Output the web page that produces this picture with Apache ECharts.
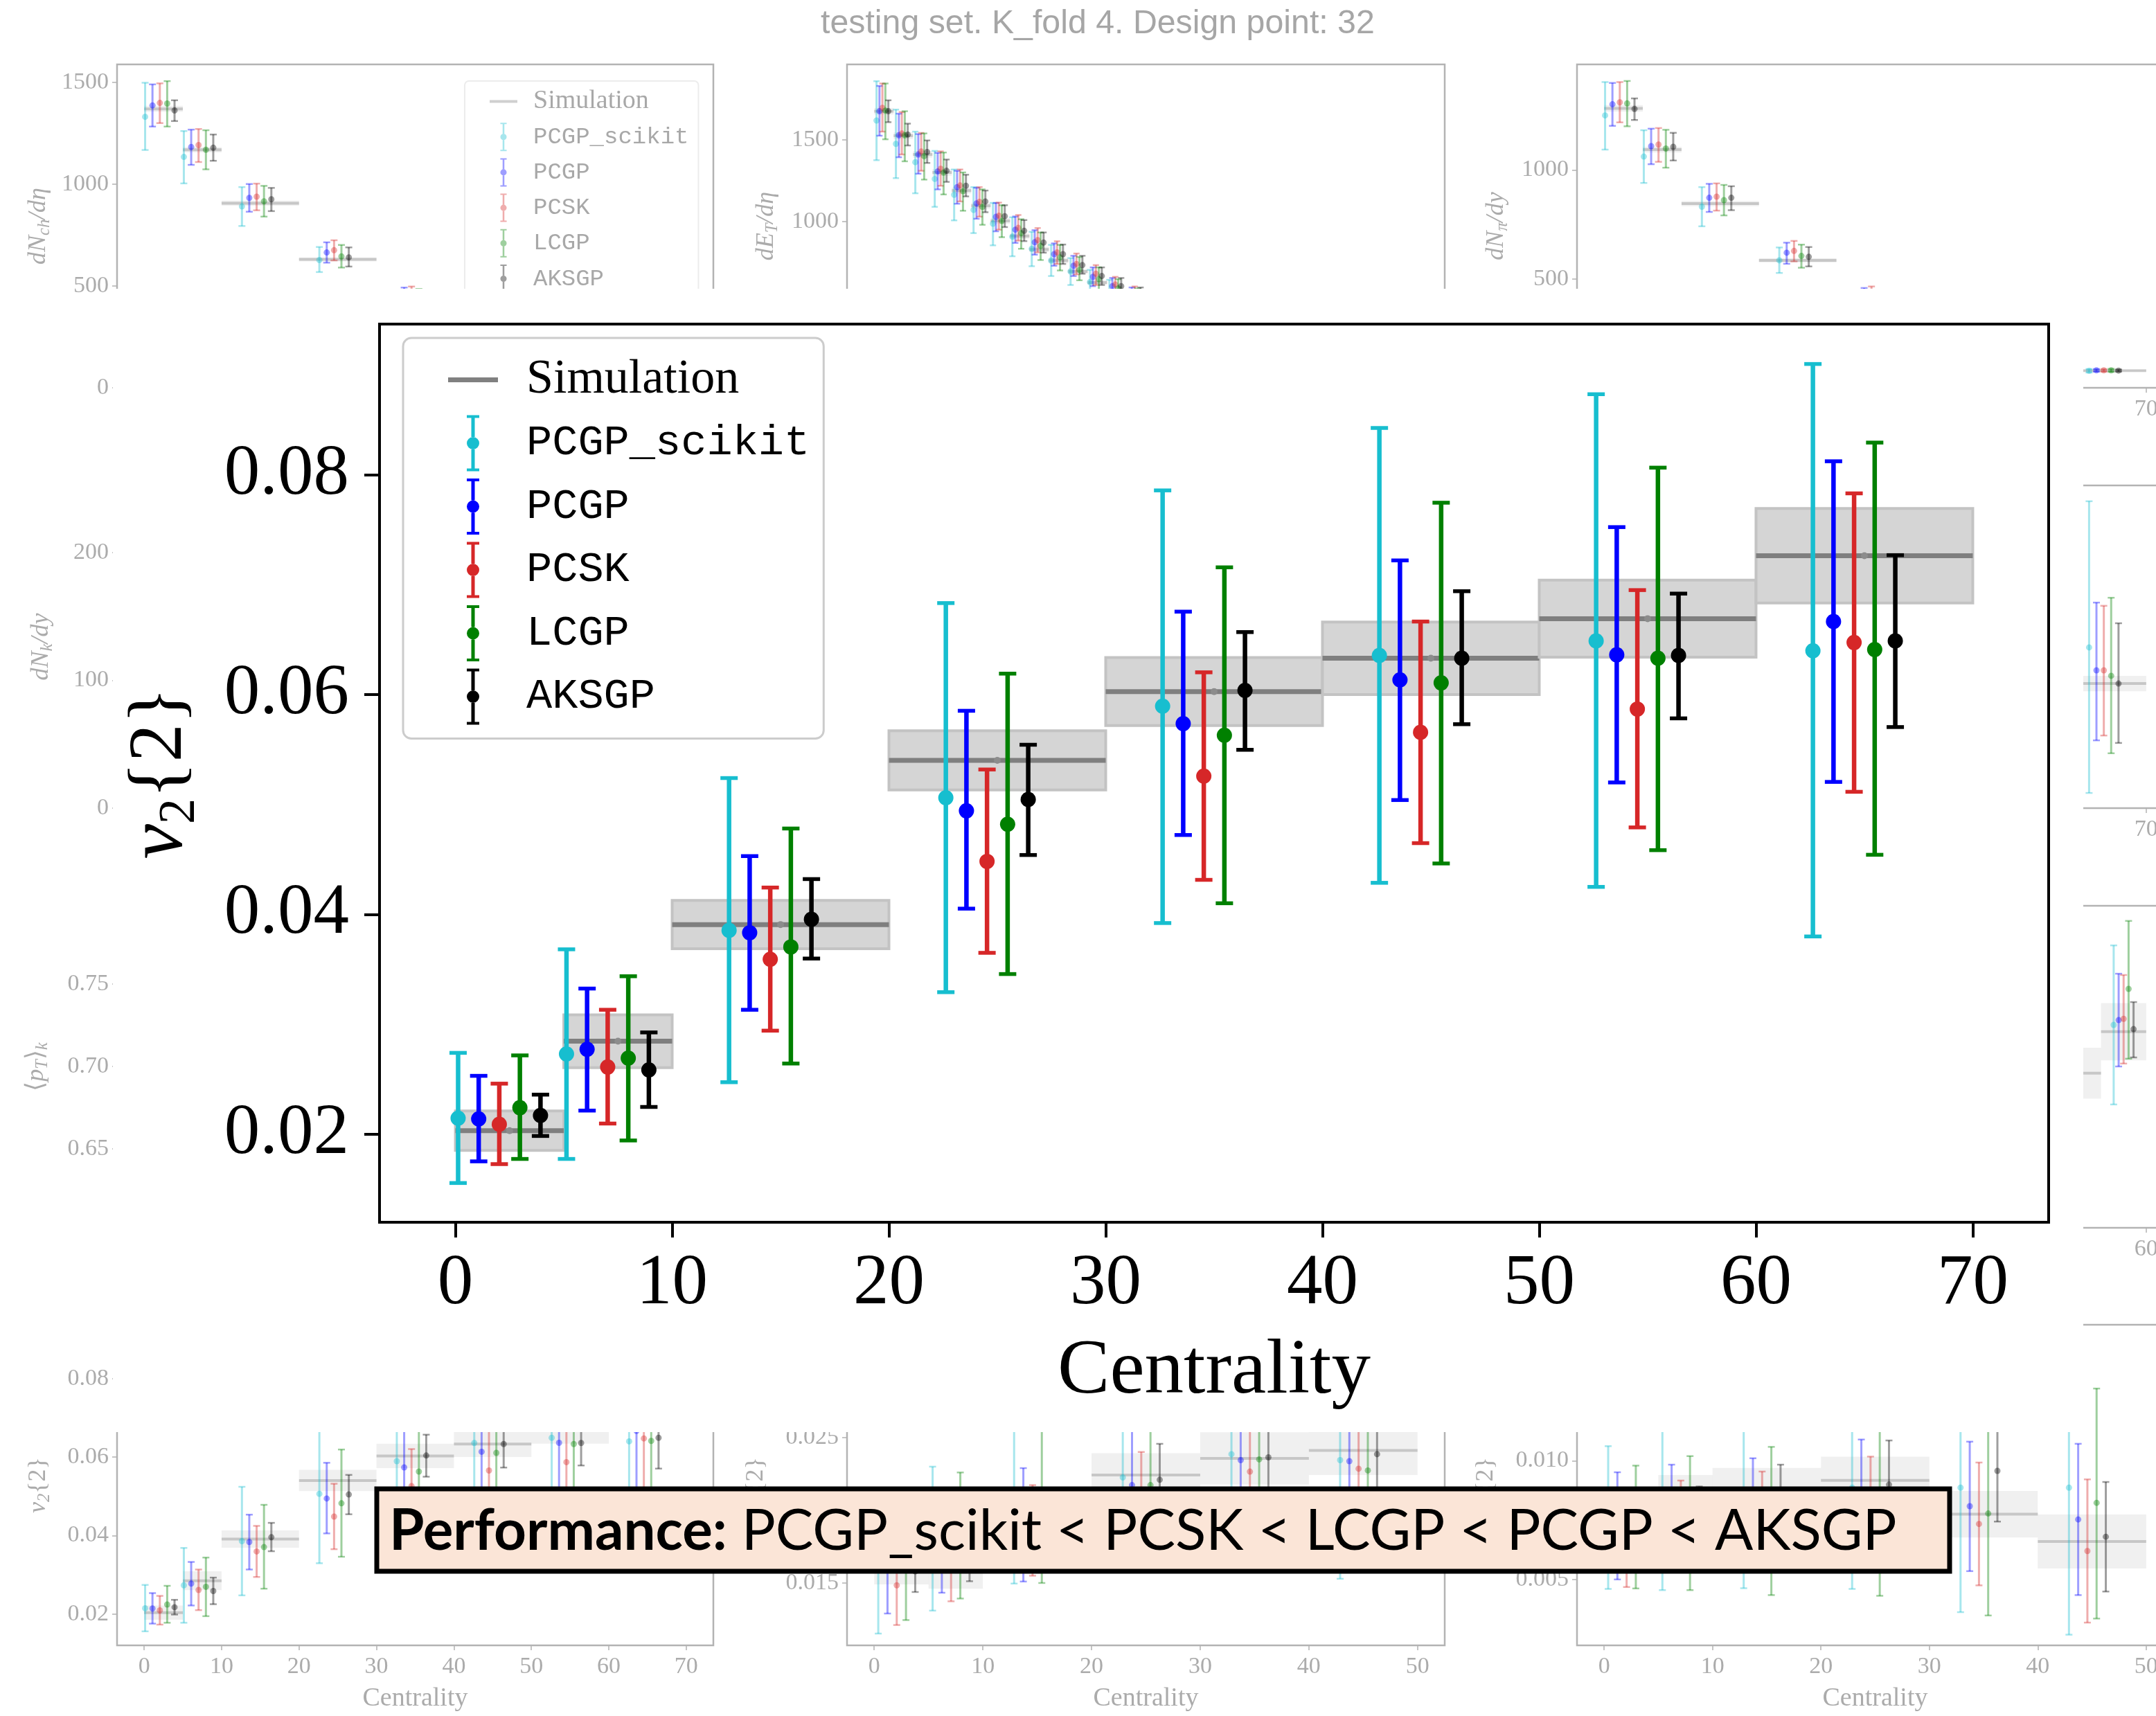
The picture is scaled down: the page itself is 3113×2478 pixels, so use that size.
<!DOCTYPE html>
<html><head><meta charset="utf-8">
<script src="https://cdn.jsdelivr.net/npm/echarts@6/dist/echarts.min.js"></script>
<style>html,body{margin:0;padding:0;background:#fff;}#chart{width:3113px;height:2478px;}</style>
</head><body><div id="chart"></div>
<script>
const SERIF = 'Liberation Serif';
const MONO = 'Liberation Mono';
const SANS = 'Liberation Sans';

// ---------------- shared names / colours ----------------
const emulatorNames = ['PCGP_scikit', 'PCGP', 'PCSK', 'LCGP', 'AKSGP'];
const emulatorColors = ['#17becf', '#0000ff', '#d62728', '#008000', '#000000'];
const simulationColor = '#808080';
const titleText = 'testing set. K_fold 4. Design point: 32';
const performanceLabel = 'Performance:';
const performanceRanking = 'PCGP_scikit < PCSK < LCGP < PCGP < AKSGP';

// ---------------- main panel: v2{2} vs centrality ----------------
const centralityBins = [[0,5],[5,10],[10,20],[20,30],[30,40],[40,50],[50,60],[60,70]];
const v2Simulation    = [0.02032, 0.02846, 0.03907, 0.05401, 0.06027, 0.0633, 0.0669, 0.07263];
const v2SimulationErr = [0.0018, 0.0024, 0.0022, 0.0027, 0.0031, 0.0033, 0.0035, 0.0043];
// [value, lower, upper]
const v2_PCGP_scikit = [[0.02145,0.01556,0.0274],[0.0273,0.01775,0.03682],[0.03855,0.02473,0.0524],[0.05061,0.03292,0.06832],[0.05894,0.03921,0.07857],[0.06356,0.04287,0.08425],[0.06488,0.0425,0.08732],[0.06398,0.03799,0.09007]];
const v2_PCGP = [[0.02139,0.01753,0.02531],[0.02772,0.02215,0.03325],[0.03833,0.03132,0.0453],[0.04942,0.04052,0.05852],[0.05735,0.04722,0.06754],[0.06133,0.0504,0.0722],[0.06361,0.052,0.07523],[0.06664,0.05205,0.08122]];
const v2_PCSK = [[0.0209,0.01728,0.0246],[0.02611,0.02097,0.03132],[0.03592,0.02942,0.04244],[0.04482,0.0365,0.05318],[0.05258,0.04314,0.06202],[0.05656,0.04648,0.06664],[0.05868,0.04791,0.0695],[0.06473,0.05115,0.0783]];
const v2_LCGP = [[0.02241,0.01775,0.02717],[0.02692,0.01943,0.03437],[0.03704,0.02643,0.04781],[0.0482,0.03457,0.0619],[0.05629,0.04101,0.07157],[0.06106,0.04463,0.07745],[0.0633,0.04584,0.08064],[0.06409,0.04542,0.08292]];
const v2_AKSGP = [[0.02171,0.01984,0.0236],[0.02585,0.02248,0.02926],[0.03955,0.03598,0.04321],[0.05045,0.0454,0.05543],[0.06037,0.05497,0.06568],[0.0633,0.0573,0.0694],[0.06356,0.05783,0.06918],[0.06488,0.05704,0.07268]];
const v2Ticks = [0.02, 0.04, 0.06, 0.08];
const centralityTicks70 = [0,10,20,30,40,50,60,70];
const centralityTicks60 = [0,10,20,30,40,50,60];
const centralityTicks50 = [0,10,20,30,40,50];

// ---------------- faded background: dNch/deta ----------------
const dNchBins = [[0,5],[5,10],[10,20],[20,30],[30,40]];
const dNchSimulation = [1369, 1168, 906, 630, 420];
const dNchSimulationErr = [15, 13, 12, 10, 8];
const dNch_PCGP_scikit = [[1330,1167,1497],[1133,1003,1260],[890,794,985],[627,568,691],[400,330,470]];
const dNch_PCGP = [[1386,1282,1489],[1182,1094,1267],[932,864,1000],[664,614,714],[440,390,492]];
const dNch_PCSK = [[1398,1299,1494],[1191,1108,1270],[938,871,1002],[675,625,724],[448,400,497]];
const dNch_LCGP = [[1395,1282,1505],[1168,1072,1264],[915,840,991],[645,590,701],[430,375,485]];
const dNch_AKSGP = [[1361,1309,1411],[1178,1114,1243],[925,867,981],[640,595,689],[428,390,470]];
const dNchTicks = [0, 500, 1000, 1500];

// ---------------- faded background: dET/deta ----------------
const dETBins = [[0,2.5],[2.5,5],[5,7.5],[7.5,10],[10,12.5],[12.5,15],[15,17.5],[17.5,20],[20,22.5],[22.5,25],[25,27.5],[27.5,30],[30,32.5],[32.5,35]];
const dETSimulation = [1676,1526,1411,1301,1190,1097,1004,911,829,761,694,626,569,530];
const dETSimulationErr = [20,20,20,20,18,18,18,16,16,16,14,14,14,12];
const dET_PCGP_scikit = [[1619,1376,1860],[1476,1266,1686],[1364,1173,1551],[1261,1090,1433],[1164,1007,1319],[1071,929,1211],[987,854,1114],[907,787,1026],[833,726,937],[761,666,857],[694,611,776],[629,554,704],[569,497,643],[510,450,575]];
const dET_PCGP = [[1676,1526,1831],[1529,1394,1661],[1411,1293,1536],[1307,1197,1421],[1211,1109,1311],[1111,1017,1207],[1029,940,1114],[950,869,1031],[873,797,947],[800,729,866],[729,666,790],[661,604,719],[604,550,654],[548,500,596]];
const dET_PCSK = [[1697,1551,1846],[1540,1411,1671],[1429,1311,1543],[1323,1219,1430],[1221,1123,1319],[1121,1030,1211],[1036,950,1116],[961,883,1040],[886,811,960],[811,740,879],[740,676,804],[680,611,733],[614,560,661],[560,515,602]];
const dET_LCGP = [[1680,1504,1846],[1529,1369,1676],[1400,1257,1540],[1300,1166,1423],[1186,1066,1301],[1090,980,1197],[1004,904,1100],[929,833,1014],[851,764,933],[780,700,857],[704,640,783],[647,576,719],[590,530,647],[540,490,590]];
const dET_AKSGP = [[1676,1609,1743],[1533,1466,1600],[1426,1359,1497],[1311,1243,1380],[1219,1154,1287],[1123,1057,1190],[1033,966,1100],[943,880,1009],[871,809,933],[800,740,859],[733,680,790],[666,611,719],[604,556,654],[552,510,596]];
const dETTicks = [0, 500, 1000, 1500];

// ---------------- faded background: dNpi/dy ----------------
const dNpiBins = [[0,5],[5,10],[10,20],[20,30],[30,40],[40,50],[50,60],[60,70]];
const dNpiSimulation = [1282,1093,845,585,390,250,150,79];
const dNpiSimulationErr = [15,13,12,10,8,6,5,4];
const dNpi_PCGP_scikit = [[1250,1093,1403],[1061,940,1182],[831,741,921],[585,527,644],[375,310,440],[240,200,280],[145,115,175],[78,70,86]];
const dNpi_PCGP = [[1301,1202,1399],[1109,1026,1189],[872,807,936],[620,569,666],[410,360,458],[255,225,285],[152,130,174],[80,74,86]];
const dNpi_PCSK = [[1310,1218,1403],[1116,1037,1192],[877,813,938],[628,580,674],[418,370,465],[258,228,288],[155,133,177],[80,74,86]];
const dNpi_LCGP = [[1305,1200,1408],[1098,1010,1184],[861,791,931],[605,551,657],[400,345,450],[248,215,281],[150,125,175],[80,73,87]];
const dNpi_AKSGP = [[1280,1229,1328],[1106,1043,1170],[872,815,925],[601,557,646],[398,360,435],[250,228,272],[150,135,165],[79,74,84]];
const dNpiTicks = [0, 500, 1000];

// ---------------- faded background: right-edge fragments (relative units) ----------------
const row2RightBins = [[60,70]];
const row2RightSimulation = [38.6];
const row2RightSimulationErr = [2.4];
const row2Right_PCGP_scikit = [[49.8,4.7,95.1]];
const row2Right_PCGP = [[42.7,21,63.7]];
const row2Right_PCSK = [[42.7,22.5,62.7]];
const row2Right_LCGP = [[41,17,65.2]];
const row2Right_AKSGP = [[38.6,20.2,57.3]];
const row3RightSimBins = [[50,55],[55,60]];
const row3RightSimulation = [48, 60.9];
const row3RightSimulationErr = [7.9, 8.9];
const row3RightBins = [[55,60]];
const row3Right_PCGP_scikit = [[63,38.3,87.7]];
const row3Right_PCGP = [[64.5,50.1,78.9]];
const row3Right_PCSK = [[64.9,51,78.5]];
const row3Right_LCGP = [[74.2,52.5,95.3]];
const row3Right_AKSGP = [[61.7,52.9,70.1]];

// ---------------- faded left column tick labels ----------------
const dNkTicks = [0, 100, 200];
const meanPtTicks = [0.65, 0.70, 0.75];

// ---------------- faded bottom row: v3{2}, v4{2} ----------------
const bottomBins = [[0,5],[5,10],[10,20],[20,30],[30,40],[40,50]];
const v3Simulation = [0.0161, 0.0159, 0.0185, 0.02243, 0.02357, 0.02412];
const v3SimulationErr = [0.0012, 0.0013, 0.0014, 0.0015, 0.0018, 0.0017];
const v3_PCGP_scikit = [[0.0165,0.01152,0.0212],[0.018,0.0131,0.023],[0.02,0.01496,0.0265],[0.02226,0.0172,0.0275],[0.02386,0.0175,0.03],[0.02345,0.01529,0.0316]];
const v3_PCGP = [[0.016,0.0129,0.0195],[0.0175,0.01433,0.0208],[0.019,0.0151,0.0229],[0.02173,0.0175,0.0268],[0.02345,0.0195,0.0274],[0.02338,0.0195,0.0273]];
const v3_PCSK = [[0.01484,0.01211,0.018],[0.017,0.01374,0.0205],[0.0185,0.0155,0.02173],[0.0205,0.017,0.02401],[0.02266,0.0185,0.0268],[0.02286,0.0185,0.0272]];
const v3_LCGP = [[0.016,0.01245,0.0198],[0.018,0.01393,0.0226],[0.0195,0.015,0.0262],[0.02173,0.0165,0.0272],[0.0235,0.018,0.029],[0.02274,0.0175,0.028]];
const v3_AKSGP = [[0.0158,0.01438,0.0172],[0.0165,0.01512,0.0185],[0.019,0.0165,0.0212],[0.0221,0.0195,0.02457],[0.02364,0.0205,0.0268],[0.02386,0.02,0.0277]];
const v3Ticks = [0.015, 0.020, 0.025, 0.030];
const v4Simulation = [0.0078, 0.0085, 0.0088, 0.00918, 0.00775, 0.0066];
const v4SimulationErr = [0.0008, 0.0009, 0.0009, 0.001, 0.00098, 0.00114];
const v4_PCGP_scikit = [[0.0075,0.0046,0.01062],[0.008,0.00455,0.0116],[0.0082,0.00463,0.0117],[0.00887,0.0046,0.0125],[0.00887,0.00362,0.0135],[0.00887,0.00267,0.015]];
const v4_PCGP = [[0.0072,0.005,0.00952],[0.0078,0.0058,0.00984],[0.008,0.006,0.01011],[0.0085,0.0062,0.0109],[0.00809,0.00535,0.01081],[0.00753,0.00434,0.01072]];
const v4_PCSK = [[0.0068,0.00468,0.0088],[0.0074,0.0055,0.00917],[0.0076,0.0058,0.00955],[0.0083,0.0062,0.01018],[0.00734,0.00475,0.00993],[0.0062,0.00318,0.00922]];
const v4_LCGP = [[0.0072,0.00462,0.0098],[0.0076,0.00455,0.0102],[0.0078,0.00434,0.01059],[0.0082,0.00431,0.0122],[0.00778,0.00348,0.0122],[0.00823,0.00335,0.01305]];
const v4_AKSGP = [[0.0074,0.0058,0.0088],[0.0075,0.006,0.00892],[0.008,0.0062,0.00984],[0.009,0.0072,0.01086],[0.00958,0.00744,0.0118],[0.0068,0.00449,0.00911]];
const v4Ticks = [0.005, 0.010, 0.015];

// ================= helpers =================
function fade(hex, a) {
  const n = parseInt(hex.slice(1), 16);
  return 'rgba(' + ((n >> 16) & 255) + ',' + ((n >> 8) & 255) + ',' + (n & 255) + ',' + a + ')';
}
const FADE = 0.38;
const fadedColors = emulatorColors.map(c => fade(c, FADE));
const fadedAxis = '#b3b3b3';
const fadedLabel = '#ababab';

function errRender(st, col) {
  return function (params, api) {
    const x = api.value(0);
    const c = api.coord([x, api.value(1)]);
    const lo = api.coord([x, api.value(2)]);
    const hi = api.coord([x, api.value(3)]);
    return { type: 'group', children: [
      { type: 'line', shape: { x1: c[0], y1: hi[1], x2: c[0], y2: lo[1] }, style: { stroke: col, lineWidth: st.stem } },
      { type: 'line', shape: { x1: c[0] - st.cap, y1: hi[1], x2: c[0] + st.cap, y2: hi[1] }, style: { stroke: col, lineWidth: st.capW } },
      { type: 'line', shape: { x1: c[0] - st.cap, y1: lo[1], x2: c[0] + st.cap, y2: lo[1] }, style: { stroke: col, lineWidth: st.capW } },
      { type: 'circle', shape: { cx: c[0], cy: c[1], r: st.r }, style: { fill: col } }
    ] };
  };
}
function simRender(st) {
  return function (params, api) {
    const x0 = api.value(0), x1 = api.value(1), v = api.value(2), e = api.value(3);
    const tl = api.coord([x0, v + e]), br = api.coord([x1, v - e]);
    const l0 = api.coord([x0, v]), l1 = api.coord([x1, v]);
    const ch = [
      { type: 'rect', shape: { x: tl[0], y: tl[1], width: br[0] - tl[0], height: br[1] - tl[1] },
        style: { fill: st.fill, stroke: st.edge || null, lineWidth: st.edgeW || 0 } },
      { type: 'line', shape: { x1: l0[0], y1: l0[1], x2: l1[0], y2: l1[1] }, style: { stroke: st.line, lineWidth: st.lineW } }
    ];
    if (st.dot) ch.push({ type: 'circle', shape: { cx: (l0[0] + l1[0]) / 2, cy: l0[1], r: st.dot }, style: { fill: st.dotColor } });
    return { type: 'group', children: ch };
  };
}

const option = { animation: false, backgroundColor: '#ffffff', grid: [], xAxis: [], yAxis: [], series: [], legend: [], graphic: [] };

function addPanel(p) {
  const gi = option.grid.length;
  const z = p.z;
  option.grid.push({ left: p.box[0], top: p.box[1], width: p.box[2], height: p.box[3], show: p.frame !== false,
    borderColor: p.axisColor, borderWidth: p.frameW, backgroundColor: 'rgba(0,0,0,0)', z: z,
    containLabel: false, outerBoundsMode: 'none' });
  option.xAxis.push({
    type: 'value', gridIndex: gi, min: p.xRange[0], max: p.xRange[1], show: p.xShow !== false, z: z, position: 'bottom',
    axisLine: { show: false, onZero: false }, splitLine: { show: false },
    axisTick: { show: true, inside: false, length: p.tickLen, customValues: p.xTicks, lineStyle: { color: p.axisColor, width: p.tickW } },
    axisLabel: { show: true, customValues: p.xTicks, margin: p.xMargin, fontFamily: SERIF, fontSize: p.labelSize, color: p.labelColor,
      hideOverlap: false, formatter: v => String(Math.round(v)) },
    name: p.xName || '', nameLocation: 'middle', nameGap: p.xNameGap || 0,
    nameTextStyle: { fontFamily: SERIF, fontSize: p.xNameSize || 10, color: p.nameColor }
  });
  const yShow = !p.yHide;
  option.yAxis.push({
    type: 'value', gridIndex: gi, min: p.yRange[0], max: p.yRange[1], show: true, z: z, position: 'left',
    axisLine: { show: false, onZero: false }, splitLine: { show: false },
    axisTick: { show: yShow, inside: false, length: p.tickLen, customValues: p.yTicks || [], lineStyle: { color: p.axisColor, width: p.tickW } },
    axisLabel: { show: yShow, customValues: p.yTicks || [], margin: p.yMargin, fontFamily: SERIF, fontSize: p.labelSize, color: p.labelColor,
      hideOverlap: false, formatter: v => v.toFixed(p.yDigits || 0) },
    name: p.yName || '', nameLocation: 'middle', nameRotate: 90, nameGap: p.yNameGap || 0,
    nameTextStyle: Object.assign({ fontFamily: SERIF, fontSize: p.yNameSize || 10, color: p.nameColor }, p.yNameRich ? { rich: p.yNameRich } : {})
  });
  if (p.sim) {
    option.series.push({ type: 'custom', name: 'Simulation', xAxisIndex: gi, yAxisIndex: gi, z: z, silent: true,
      itemStyle: { color: p.simStyle.line }, renderItem: simRender(p.simStyle), encode: { x: [0, 1], y: 2 },
      data: p.simBins.map((b, i) => [b[0], b[1], p.sim[i], p.simErr[i]]) });
  }
  if (p.emu) {
    p.emu.forEach((arr, k) => {
      const col = p.colors[k];
      option.series.push({ type: 'custom', name: emulatorNames[k], xAxisIndex: gi, yAxisIndex: gi, z: z, silent: true,
        itemStyle: { color: col }, renderItem: errRender(p.errStyle, col), encode: { x: 0, y: [1, 2, 3] },
        data: arr.map((d, i) => { const b = p.errBins[i]; return [(b[0] + b[1]) / 2 + (k - p.offK) * p.offStep, d[0], d[1], d[2]]; }) });
    });
  }
}

function fadedRich(size) {
  return {
    i: { fontFamily: SERIF, fontStyle: 'italic', fontSize: size, color: fadedLabel, lineHeight: size * 1.2 },
    n: { fontFamily: SERIF, fontSize: size, color: fadedLabel, lineHeight: size * 1.2 },
    s: { fontFamily: SERIF, fontStyle: 'italic', fontSize: size * 0.68, color: fadedLabel, lineHeight: size * 0.68, verticalAlign: 'bottom' }
  };
}
const fadedBase = {
  z: 1, axisColor: fadedAxis, frameW: 2.5, tickLen: 7, tickW: 1.5, labelSize: 34, labelColor: fadedLabel, nameColor: fadedLabel,
  xMargin: 14, yMargin: 12, colors: fadedColors, offK: 2.5, offStep: 0.95,
  errStyle: { stem: 3, cap: 5, capW: 2.5, r: 4.5 },
  simStyle: { fill: 'rgba(128,128,128,0.12)', line: 'rgba(128,128,128,0.36)', lineW: 4 },
  yNameSize: 36, xNameSize: 38
};
function faded(p) { return Object.assign({}, fadedBase, p); }

// ---- row 1 (faded) ----
addPanel(faded({ box: [169, 93, 861, 467], xRange: [-3.5, 73.5], yRange: [0, 1587], xTicks: centralityTicks70, yTicks: dNchTicks,
  yName: '{i|dN}{s|ch}{i|/dη}', yNameRich: fadedRich(36), yNameGap: 92,
  sim: dNchSimulation, simErr: dNchSimulationErr, simBins: dNchBins, errBins: dNchBins,
  emu: [dNch_PCGP_scikit, dNch_PCGP, dNch_PCSK, dNch_LCGP, dNch_AKSGP] }));
addPanel(faded({ box: [1223, 93, 863, 467], xRange: [-3.5, 73.5], yRange: [-19, 1963], xTicks: centralityTicks70, yTicks: dETTicks,
  yName: '{i|dE}{s|T}{i|/dη}', yNameRich: fadedRich(36), yNameGap: 95, offStep: 0.38,
  errStyle: { stem: 3, cap: 4.5, capW: 2.5, r: 4.5 },
  sim: dETSimulation, simErr: dETSimulationErr, simBins: dETBins, errBins: dETBins,
  emu: [dET_PCGP_scikit, dET_PCGP, dET_PCSK, dET_LCGP, dET_AKSGP] }));
addPanel(faded({ box: [2277, 93, 861, 467], xRange: [-3.5, 73.5], yRange: [0, 1484], xTicks: centralityTicks70, yTicks: dNpiTicks,
  yName: '{i|dN}{s|π}{i|/dy}', yNameRich: fadedRich(36), yNameGap: 95,
  sim: dNpiSimulation, simErr: dNpiSimulationErr, simBins: dNpiBins, errBins: dNpiBins,
  emu: [dNpi_PCGP_scikit, dNpi_PCGP, dNpi_PCSK, dNpi_LCGP, dNpi_AKSGP] }));
// ---- rows 2 & 3 (faded, only edges visible) ----
addPanel(faded({ box: [169, 701, 861, 466], frame: false, xShow: false, xRange: [-3.5, 73.5], yRange: [0, 252.6], xTicks: [], yTicks: dNkTicks,
  yName: '{i|dN}{s|k}{i|/dy}', yNameRich: fadedRich(36), yNameGap: 88 }));
addPanel(faded({ box: [2277, 701, 861, 466], xRange: [-3.5, 73.5], yRange: [0, 100], xTicks: centralityTicks70, yHide: true,
  sim: row2RightSimulation, simErr: row2RightSimulationErr, simBins: row2RightBins, errBins: row2RightBins,
  emu: [row2Right_PCGP_scikit, row2Right_PCGP, row2Right_PCSK, row2Right_LCGP, row2Right_AKSGP] }));
addPanel(faded({ box: [169, 1308, 861, 465], frame: false, xShow: false, xRange: [-3.5, 73.5], yRange: [0.6021, 0.7975], xTicks: [], yTicks: meanPtTicks, yDigits: 2,
  yName: '{n|⟨}{i|p}{s|T}{n|⟩}{s|k}', yNameRich: fadedRich(36), yNameGap: 95 }));
addPanel(faded({ box: [2277, 1308, 861, 465], xRange: [-3, 63], yRange: [0, 100], xTicks: centralityTicks60, yHide: true, offK: 2, offStep: 0.55,
  sim: row3RightSimulation, simErr: row3RightSimulationErr, simBins: row3RightSimBins, errBins: row3RightBins,
  emu: [row3Right_PCGP_scikit, row3Right_PCGP, row3Right_PCSK, row3Right_LCGP, row3Right_AKSGP] }));
// ---- row 4 (faded) ----
addPanel(faded({ box: [169, 1913, 861, 463], xRange: [-3.5, 73.5], yRange: [0.01199, 0.0937], xTicks: centralityTicks70, yTicks: v2Ticks, yDigits: 2,
  xName: 'Centrality', xNameGap: 58, yName: '{i|v}{s|2}{n|{2}}', yNameRich: fadedRich(36), yNameGap: 92,
  sim: v2Simulation, simErr: v2SimulationErr, simBins: centralityBins, errBins: centralityBins,
  emu: [v2_PCGP_scikit, v2_PCGP, v2_PCSK, v2_LCGP, v2_AKSGP] }));
addPanel(faded({ box: [1223, 1913, 863, 463], xRange: [-2.5, 52.5], yRange: [0.01071, 0.03276], xTicks: centralityTicks50, yTicks: v3Ticks, yDigits: 3,
  xName: 'Centrality', xNameGap: 58, yName: '{i|v}{s|3}{n|{2}}', yNameRich: fadedRich(36), yNameGap: 110, offStep: 0.85,
  sim: v3Simulation, simErr: v3SimulationErr, simBins: bottomBins, errBins: bottomBins,
  emu: [v3_PCGP_scikit, v3_PCGP, v3_PCSK, v3_LCGP, v3_AKSGP] }));
addPanel(faded({ box: [2277, 1913, 861, 463], xRange: [-2.5, 52.5], yRange: [0.00222, 0.01574], xTicks: centralityTicks50, yTicks: v4Ticks, yDigits: 3,
  xName: 'Centrality', xNameGap: 58, yName: '{i|v}{s|4}{n|{2}}', yNameRich: fadedRich(36), yNameGap: 110, offStep: 0.85,
  sim: v4Simulation, simErr: v4SimulationErr, simBins: bottomBins, errBins: bottomBins,
  emu: [v4_PCGP_scikit, v4_PCGP, v4_PCSK, v4_LCGP, v4_AKSGP] }));

// ---- white cover where the enlarged panel sits ----
option.graphic.push({ type: 'rect', z: 5, silent: true, shape: { x: 163, y: 417, width: 2845, height: 1651 }, style: { fill: '#ffffff' } });

// ---- main enlarged panel ----
addPanel({
  z: 10, box: [548, 468, 2410, 1297], axisColor: '#000000', frameW: 4, tickLen: 22, tickW: 4, labelSize: 103, labelColor: '#000000', nameColor: '#000000',
  xMargin: 38, yMargin: 44, xRange: [-3.5, 73.5], yRange: [0.01199, 0.0937], xTicks: centralityTicks70, yTicks: v2Ticks, yDigits: 2,
  xName: 'Centrality', xNameSize: 113, xNameGap: 160,
  yName: '{v|v}{s|2}{2}', yNameSize: 110, yNameGap: 250,
  yNameRich: {
    v: { fontFamily: SERIF, fontStyle: 'italic', fontSize: 114, color: '#000', lineHeight: 132 },
    s: { fontFamily: SERIF, fontSize: 74, color: '#000', lineHeight: 74, verticalAlign: 'bottom' }
  },
  colors: emulatorColors, offK: 2.5, offStep: 0.95,
  errStyle: { stem: 6.5, cap: 12.5, capW: 5.5, r: 11 },
  simStyle: { fill: '#d5d5d5', edge: '#c3c3c3', edgeW: 4, line: '#7f7f7f', lineW: 7, dot: 5, dotColor: '#8c8c8c' },
  sim: v2Simulation, simErr: v2SimulationErr, simBins: centralityBins, errBins: centralityBins,
  emu: [v2_PCGP_scikit, v2_PCGP, v2_PCSK, v2_LCGP, v2_AKSGP]
});

// ---- legends ----
const ERR_ICON = 'path://M0,0H18V4H0Z M6.5,4H11.5V31.5H6.5Z M6.5,49.5H11.5V77H6.5Z M0,77H18V81H0Z M0,40.5A9,9 0 1 1 18,40.5A9,9 0 1 1 0,40.5Z';
const SIM_ICON = 'path://M0,0H72V7H0Z';
function legendData(colors, simCol, textCol, serifSize, monoSize, lh, padL) {
  return [{ name: 'Simulation', icon: SIM_ICON, itemStyle: { color: simCol, borderWidth: 0 },
            textStyle: { fontFamily: SERIF, fontSize: serifSize, color: textCol, lineHeight: lh, padding: [0, 0, 0, padL] } }]
    .concat(emulatorNames.map((n, k) => ({ name: n, icon: ERR_ICON, itemStyle: { color: colors[k], borderWidth: 0 },
            textStyle: { fontFamily: MONO, fontSize: monoSize, color: textCol, lineHeight: lh, padding: [0, 0, 0, padL] } })));
}
option.legend.push({ left: 671, top: 117, orient: 'vertical', itemWidth: 40, itemHeight: 41, itemGap: 10.2, padding: [9, 14, 9, 36],
  backgroundColor: '#ffffff', borderColor: '#ececec', borderWidth: 2, borderRadius: 6, selectedMode: false, z: 1,
  data: legendData(fadedColors, 'rgba(128,128,128,0.38)', '#a8a8a8', 38, 34, 41, 18) });
option.legend.push({ left: 582, top: 488, orient: 'vertical', itemWidth: 72, itemHeight: 81, itemGap: 10.5, padding: [20, 20, 20, 65],
  backgroundColor: '#ffffff', borderColor: '#cccccc', borderWidth: 3, borderRadius: 12, selectedMode: false, z: 12,
  data: legendData(emulatorColors, simulationColor, '#000000', 70, 62, 81, 36) });

// ---- title and performance box ----
const mctx = document.createElement('canvas').getContext('2d');
function measure(t, font) { mctx.font = font; return mctx.measureText(t).width; }
const titleSize = 100 * 800 / measure(titleText, '100px "' + SANS + '"');
option.title = { text: titleText, left: 1180, top: 6, z: 20,
  textStyle: { fontFamily: SANS, fontSize: titleSize, fontWeight: 'normal', color: '#a6a6a6' } };
const perfW = measure(performanceLabel, 'bold 100px Lato') + measure(' ' + performanceRanking, '100px Lato');
const perfSize = 100 * 2177 / perfW;
option.graphic.push({ type: 'rect', z: 20, silent: true, shape: { x: 544, y: 2150, width: 2271, height: 119 },
  style: { fill: '#fbe5d7', stroke: '#000000', lineWidth: 7 } });
option.graphic.push({ type: 'text', z: 21, silent: true, x: 562, y: 2212,
  style: { text: '{b|' + performanceLabel + '} ' + performanceRanking, fontFamily: 'Lato', fontSize: perfSize, fill: '#000000',
    verticalAlign: 'middle', align: 'left',
    rich: { b: { fontFamily: 'Lato', fontWeight: 'bold', fontSize: perfSize, fill: '#000000' } } } });

const chart = echarts.init(document.getElementById('chart'), null, { renderer: 'canvas', width: 3113, height: 2478 });
chart.setOption(option);
</script></body></html>
